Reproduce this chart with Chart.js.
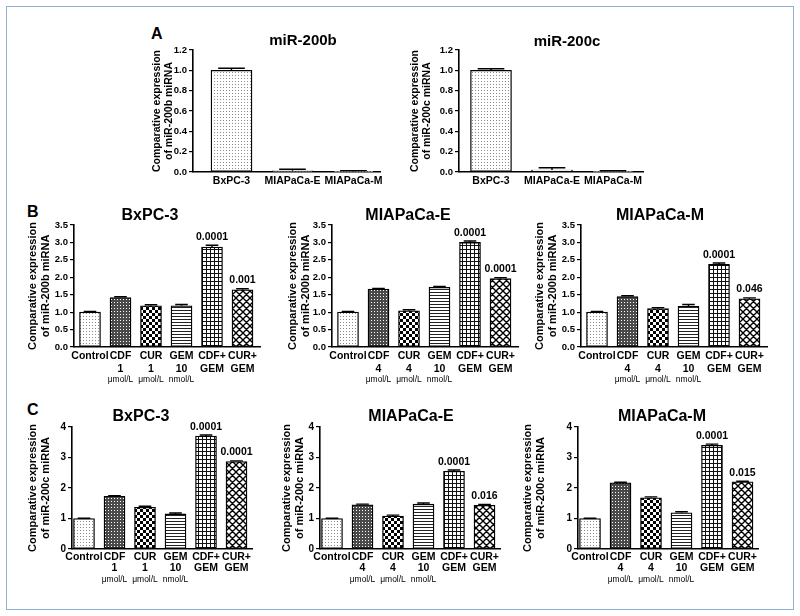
<!DOCTYPE html>
<html>
<head>
<meta charset="utf-8">
<script src="https://cdn.jsdelivr.net/npm/chart.js@4.4.0/dist/chart.umd.min.js"></script>
<style>
  html, body { margin: 0; padding: 0; background: #fff; }
  body { width: 800px; height: 616px; position: relative; overflow: hidden; font-family: "Liberation Sans", Arial, sans-serif; }
  .frame { position: absolute; left: 6px; top: 6px; width: 788px; height: 604px; border: 1.5px solid #8fb0d8; box-sizing: border-box; }
  .letter { position: absolute; font-weight: bold; font-size: 16px; line-height: 16px; color: #000; }
  canvas { position: absolute; }
</style>
</head>
<body>
<div class="frame"></div>
<div class="letter" style="left:151px;top:26px">A</div>
<div class="letter" style="left:27px;top:204px">B</div>
<div class="letter" style="left:27px;top:402px">C</div>
<canvas id="a1"></canvas>
<canvas id="a2"></canvas>
<canvas id="b1"></canvas>
<canvas id="b2"></canvas>
<canvas id="b3"></canvas>
<canvas id="c1"></canvas>
<canvas id="c2"></canvas>
<canvas id="c3"></canvas>
<script>
// ===================== data =====================
const cellLines = ['BxPC-3', 'MIAPaCa-E', 'MIAPaCa-M'];
const baseB = [1.00, 0.012, 0.006];
const baseBErr = [0.02, 0.015, 0.008];
const baseC = [1.00, 0.02, 0.006];
const baseCErr = [0.015, 0.022, 0.006];

const treatBx = [['Control'], ['CDF', '1'], ['CUR', '1'], ['GEM', '10'], ['CDF+', 'GEM'], ['CUR+', 'GEM']];
const treatMia = [['Control'], ['CDF', '4'], ['CUR', '4'], ['GEM', '10'], ['CDF+', 'GEM'], ['CUR+', 'GEM']];
const treatUnits = ['', 'μmol/L', 'μmol/L', 'nmol/L', '', ''];

// miR-200b after treatment
const bBx = [1.00, 1.42, 1.18, 1.18, 2.87, 1.64];
const bBxErr = [0.02, 0.02, 0.03, 0.04, 0.05, 0.03];
const bBxP = ['', '', '', '', '0.0001', '0.001'];
const bMiaE = [1.00, 1.66, 1.04, 1.71, 3.00, 1.96];
const bMiaEErr = [0.02, 0.02, 0.03, 0.03, 0.04, 0.03];
const bMiaEP = ['', '', '', '', '0.0001', '0.0001'];
const bMiaM = [1.00, 1.45, 1.10, 1.17, 2.37, 1.38];
const bMiaMErr = [0.02, 0.02, 0.03, 0.05, 0.04, 0.03];
const bMiaMP = ['', '', '', '', '0.0001', '0.046'];

// miR-200c after treatment
const cBx = [1.00, 1.73, 1.37, 1.15, 3.70, 2.87];
const cBxErr = [0.01, 0.02, 0.03, 0.03, 0.04, 0.02];
const cBxP = ['', '', '', '', '0.0001', '0.0001'];
const cMiaE = [1.00, 1.45, 1.08, 1.47, 2.55, 1.43];
const cMiaEErr = [0.01, 0.02, 0.03, 0.04, 0.04, 0.03];
const cMiaEP = ['', '', '', '', '0.0001', '0.016'];
const cMiaM = [1.00, 2.17, 1.68, 1.19, 3.40, 2.20];
const cMiaMErr = [0.01, 0.02, 0.03, 0.03, 0.04, 0.02];
const cMiaMP = ['', '', '', '', '0.0001', '0.015'];

// ===================== fill patterns =====================
function tile(w, h, draw) {
  const c = document.createElement('canvas');
  c.width = w; c.height = h;
  const g = c.getContext('2d');
  g.fillStyle = '#fff';
  g.fillRect(0, 0, w, h);
  draw(g);
  return g.createPattern(c, 'repeat');
}
const dots = tile(3, 3, g => { g.fillStyle = '#8a8a8a'; g.fillRect(0, 0, 1, 1); });
const dense = tile(3, 3, g => { g.fillStyle = '#4a4a4a'; g.fillRect(0, 0, 3, 3); g.fillStyle = '#fff'; g.fillRect(1, 1, 1, 1); });
const checker = tile(6, 6, g => { g.fillStyle = '#000'; g.fillRect(0, 0, 3, 3); g.fillRect(3, 3, 3, 3); });
const hlines = tile(4, 3, g => { g.fillStyle = '#222'; g.fillRect(0, 0, 4, 1); });
const grid = tile(4, 4, g => { g.fillStyle = '#111'; g.fillRect(0, 0, 4, 1); g.fillRect(0, 0, 1, 4); });
const hatch = tile(7, 7, g => {
  g.strokeStyle = '#000'; g.lineWidth = 1.4;
  g.beginPath();
  [-7, 0, 7].forEach(o => {
    g.moveTo(o - 1, -1); g.lineTo(o + 8, 8);
    g.moveTo(o - 1, 8); g.lineTo(o + 8, -1);
  });
  g.stroke();
});
const treatFills = [dots, dense, checker, hlines, grid, hatch];
const baseFills = [dots, dots, dots];

// ===================== error bars, p values, units, titles =====================
const FONT = '"Liberation Sans", Arial, sans-serif';
Chart.defaults.font.family = FONT;

const extras = {
  id: 'extras',
  afterDatasetsDraw(chart, args, o) {
    const ctx = chart.ctx;
    const y = chart.scales.y;
    const ca = chart.chartArea;
    ctx.save();
    ctx.strokeStyle = '#000';
    ctx.fillStyle = '#000';
    ctx.lineWidth = 1.4;
    chart.getDatasetMeta(0).data.forEach((bar, i) => {
      const top = y.getPixelForValue(o.values[i] + o.errors[i]);
      const base = y.getPixelForValue(o.values[i]);
      const half = bar.width * o.cap / 2;
      ctx.beginPath();
      ctx.moveTo(bar.x, base); ctx.lineTo(bar.x, top);
      ctx.moveTo(bar.x - half, top); ctx.lineTo(bar.x + half, top);
      ctx.stroke();
      if (o.pvals && o.pvals[i]) {
        ctx.font = 'bold 10.5px ' + FONT;
        ctx.textAlign = 'center';
        ctx.textBaseline = 'bottom';
        ctx.fillText(o.pvals[i], bar.x, top - 3);
      }
      if (o.units && o.units[i]) {
        ctx.font = '8.5px ' + FONT;
        ctx.textAlign = 'center';
        ctx.textBaseline = 'middle';
        ctx.fillText(o.units[i], bar.x, ca.bottom + o.unitsDy);
      }
    });
    ctx.font = 'bold ' + o.titleSize + 'px ' + FONT;
    ctx.textAlign = 'center';
    ctx.textBaseline = 'middle';
    ctx.fillText(o.title, ca.left + o.titleDx, ca.top - o.titleDy);
    ctx.restore();
  }
};

// ===================== panels =====================
const PAD_T = 32, PAD_R = 24;
const rowA = { top: 50, bottom: 172, hx: 30, step: 61, barW: 41, cap: 0.65, ymax: 1.2, ystep: 0.2, dec: 1,
  titleSize: 15, titleDy: 9, yTitleSize: 10.5, yTitleLH: 1.15, yTickSize: 9.5, tickSize: 10.5, tickLH: 1.2, tickPad: 3 };
const rowB = { top: 225, bottom: 347, hx: 45, step: 30.5, first: 16, width: 186, barW: 21, cap: 0.6, ymax: 3.5, ystep: 0.5, dec: 1,
  titleSize: 16, titleDy: 9, yTitleSize: 11, yTitleLH: 1.2, yTickSize: 9.5, tickSize: 10.5, tickLH: 1.2, tickPad: 3, unitsDy: 33 };
const rowC = { top: 427, bottom: 549, hx: 45, step: 30.5, first: 12, width: 180, barW: 21, cap: 0.6, ymax: 4, ystep: 1, dec: 0,
  titleSize: 16, titleDy: 10, yTitleSize: 11, yTitleLH: 1.2, yTickSize: 10, tickSize: 10.5, tickLH: 1.0, tickPad: 3, unitsDy: 31 };

const panels = [
  Object.assign({}, rowA, { id: 'a1', title: 'miR-200b', mir: 'miR-200b', labels: cellLines, values: baseB, errors: baseBErr, fills: baseFills,
    left: 193, first: 38.5, width: 187, wy: 42, titleDx: 110 }),
  Object.assign({}, rowA, { id: 'a2', title: 'miR-200c', mir: 'miR-200c', labels: cellLines, values: baseC, errors: baseCErr, fills: baseFills,
    left: 459, first: 32, width: 184, wy: 50, titleDx: 108, titleDy: 8 }),
  Object.assign({}, rowB, { id: 'b1', title: 'BxPC-3', mir: 'miR-200b', labels: treatBx, values: bBx, errors: bBxErr, pvals: bBxP,
    left: 74, wy: 48, titleDx: 76 }),
  Object.assign({}, rowB, { id: 'b2', title: 'MIAPaCa-E', mir: 'miR-200b', labels: treatMia, values: bMiaE, errors: bMiaEErr, pvals: bMiaEP,
    left: 332, wy: 46, titleDx: 76 }),
  Object.assign({}, rowB, { id: 'b3', title: 'MIAPaCa-M', mir: 'miR-200b', labels: treatMia, values: bMiaM, errors: bMiaMErr, pvals: bMiaMP,
    left: 581, wy: 48, titleDx: 79 }),
  Object.assign({}, rowC, { id: 'c1', title: 'BxPC-3', mir: 'miR-200c', labels: treatBx, values: cBx, errors: cBxErr, pvals: cBxP,
    left: 72, wy: 46, titleDx: 69 }),
  Object.assign({}, rowC, { id: 'c2', title: 'MIAPaCa-E', mir: 'miR-200c', labels: treatMia, values: cMiaE, errors: cMiaEErr, pvals: cMiaEP,
    left: 320, wy: 40, titleDx: 91 }),
  Object.assign({}, rowC, { id: 'c3', title: 'MIAPaCa-M', mir: 'miR-200c', labels: treatMia, values: cMiaM, errors: cMiaMErr, pvals: cMiaMP,
    left: 578, wy: 57, titleDx: 84 }),
];

function makeChart(p) {
  const cv = document.getElementById(p.id);
  const w = p.wy + p.width + PAD_R;
  const h = PAD_T + (p.bottom - p.top) + p.hx;
  cv.width = w; cv.height = h;
  cv.style.width = w + 'px'; cv.style.height = h + 'px';
  cv.style.left = (p.left - p.wy) + 'px';
  cv.style.top = (p.top - PAD_T) + 'px';
  const xmin = 1 - p.first / p.step;
  const xmax = xmin + p.width / p.step;
  const fills = p.fills || treatFills;

  new Chart(cv, {
    type: 'bar',
    data: {
      datasets: [{
        data: p.values.map((v, i) => ({ x: i + 1, y: v })),
        backgroundColor: fills,
        borderColor: '#000',
        borderWidth: 1.3,
        borderSkipped: false,
        barThickness: p.barW
      }]
    },
    options: {
      responsive: false,
      animation: false,
      devicePixelRatio: 1,
      layout: { padding: { top: PAD_T, right: PAD_R, left: 0, bottom: 0 } },
      plugins: {
        legend: { display: false },
        tooltip: { enabled: false },
        extras: {
          values: p.values, errors: p.errors, pvals: p.pvals, cap: p.cap,
          units: p.pvals ? treatUnits : null, unitsDy: p.unitsDy,
          title: p.title, titleDx: p.titleDx, titleDy: p.titleDy, titleSize: p.titleSize
        }
      },
      scales: {
        x: {
          type: 'linear',
          min: xmin, max: xmax, offset: false,
          grid: { display: true, drawOnChartArea: false, drawTicks: false, color: '#000' },
          border: { color: '#000', width: 1.6 },
          afterBuildTicks: s => { s.ticks = p.labels.map((_, i) => ({ value: i + 1 })); },
          afterFit: s => { s.height = p.hx; },
          ticks: {
            autoSkip: false, maxRotation: 0, padding: p.tickPad, color: '#000',
            font: { size: p.tickSize, weight: 'bold', lineHeight: p.tickLH },
            callback: v => p.labels[Math.round(v) - 1]
          }
        },
        y: {
          min: 0, max: p.ymax,
          grid: { display: true, drawOnChartArea: false, drawTicks: true, tickLength: 4, color: '#000', lineWidth: 1.2 },
          border: { color: '#000', width: 1.6 },
          afterFit: s => { s.width = p.wy; },
          ticks: {
            stepSize: p.ystep, padding: 2, color: '#000',
            font: { size: p.yTickSize, weight: 'bold' },
            callback: v => Number(v).toFixed(p.dec)
          },
          title: {
            display: true, color: '#000', padding: 0,
            text: ['Comparative expression', 'of ' + p.mir + ' miRNA'],
            font: { size: p.yTitleSize, weight: 'bold', lineHeight: p.yTitleLH }
          }
        }
      }
    },
    plugins: [extras]
  });
}

panels.forEach(makeChart);
</script>
</body>
</html>
